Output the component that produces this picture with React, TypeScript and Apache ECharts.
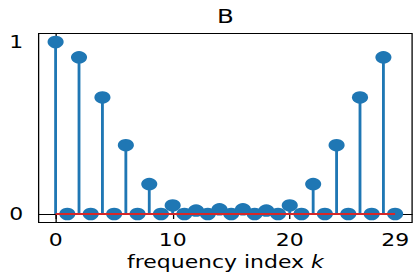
import React, { useEffect, useRef } from "react";
import * as echarts from "echarts";

const kValues: number[] = Array.from({ length: 30 }, (_, i) => i);
const magnitudes: number[] = [
  1, 0, 0.911, 0, 0.678, 0, 0.40, 0, 0.174, 0,
  0.05, 0, 0.02, 0, 0.027, 0, 0.027, 0, 0.02, 0,
  0.05, 0, 0.174, 0, 0.40, 0, 0.678, 0, 0.911, 0,
];
const xTicks: number[] = [0, 10, 20, 29];
const yTicks: number[] = [0, 1];
const titleText = "B";

const INNER_W = 320;
const SCALE = 413 / INNER_W;
const FONT = "DejaVu Sans";

export default function App() {
  const ref = useRef<HTMLDivElement>(null);
  useEffect(() => {
    if (!ref.current) return;
    const chart = echarts.init(ref.current, null, { renderer: "svg" });
    const data = kValues.map((k, i) => [k, magnitudes[i]]);
    chart.setOption({
      animation: false,
      grid: {
        left: 29.93,
        right: INNER_W - 319.3,
        top: 33.4,
        bottom: 279 - 222.6,
        show: true,
        borderColor: "#000",
        borderWidth: 1,
        backgroundColor: "transparent",
      },
      graphic: [
        {
          type: "text",
          x: 174.6,
          y: 16.5,
          style: {
            text: titleText,
            fontSize: 19,
            fontFamily: FONT,
            fill: "#000",
            align: "center",
            verticalAlign: "middle",
          },
        },
      ],
      xAxis: {
        type: "value",
        min: -1.45,
        max: 30.45,
        name: "frequency index {i|k}",
        nameLocation: "middle",
        nameGap: 31,
        nameTextStyle: {
          fontSize: 17,
          fontFamily: FONT,
          color: "#000",
          rich: { i: { fontStyle: "italic", fontSize: 17, fontFamily: FONT, color: "#000" } },
        },
        splitLine: { show: false },
        axisLine: { show: true, lineStyle: { color: "#000", width: 1 } },
        axisTick: { show: true, customValues: xTicks, length: 5, lineStyle: { color: "#000", width: 1 } },
        axisLabel: {
          customValues: xTicks,
          fontSize: 17,
          fontFamily: FONT,
          color: "#000",
          margin: 9,
          showMinLabel: true,
          showMaxLabel: true,
        },
      },
      yAxis: {
        type: "value",
        min: -0.05,
        max: 1.05,
        splitLine: { show: false },
        axisLine: { show: true, lineStyle: { color: "#000", width: 1 } },
        axisTick: { show: true, customValues: yTicks, length: 4.6, lineStyle: { color: "#000", width: 1 } },
        axisLabel: {
          customValues: yTicks,
          fontSize: 17,
          fontFamily: FONT,
          color: "#000",
          margin: 12,
          showMinLabel: true,
          showMaxLabel: true,
        },
      },
      series: [
        {
          type: "custom",
          z: 1,
          data,
          renderItem: (params: any, api: any) => {
            const x = api.value(0);
            const y = api.value(1);
            const p0 = api.coord([x, 0]);
            const p1 = api.coord([x, y]);
            return {
              type: "line",
              shape: { x1: p0[0], y1: p0[1], x2: p1[0], y2: p1[1] },
              style: { stroke: "#1f77b4", lineWidth: 2.2 },
            };
          },
        },
        {
          type: "scatter",
          z: 2,
          data,
          symbol: "circle",
          symbolSize: 12.5,
          itemStyle: { color: "#1f77b4", opacity: 1 },
        },
        {
          type: "line",
          z: 3,
          data: [
            [kValues[0], 0],
            [kValues[kValues.length - 1], 0],
          ],
          symbol: "none",
          lineStyle: { color: "#d62728", width: 2 },
        },
      ],
    });
    return () => chart.dispose();
  }, []);
  return (
    <div style={{ position: "absolute", left: 0, top: 0, width: 413, height: 279, overflow: "hidden", background: "#fff" }}>
      <div
        ref={ref}
        style={{ width: INNER_W, height: 279, transform: `scaleX(${SCALE})`, transformOrigin: "0 0" }}
      />
    </div>
  );
}
